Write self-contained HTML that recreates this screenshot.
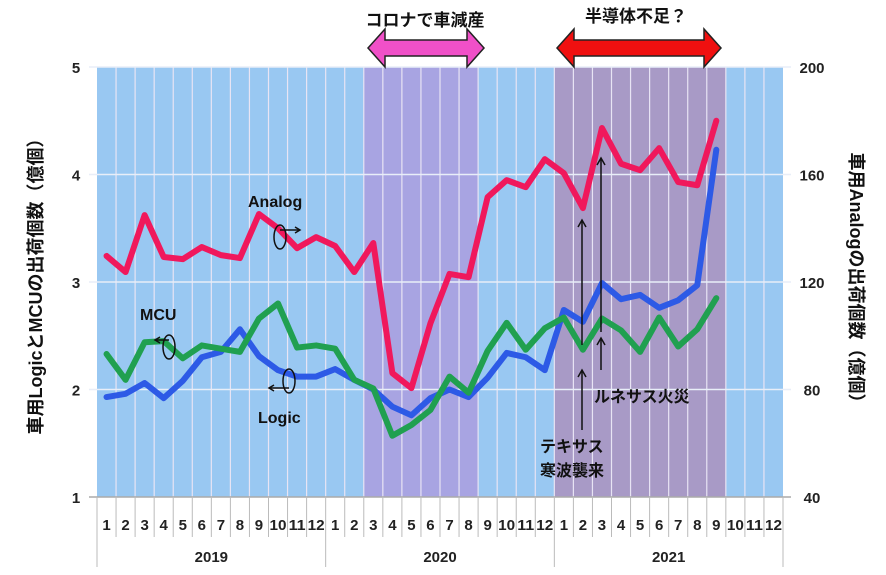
<!DOCTYPE html>
<html><head><meta charset="utf-8">
<style>
body{margin:0;background:#fff;width:886px;height:575px;overflow:hidden}
svg{display:block;font-family:"Liberation Sans","Noto Sans CJK JP",sans-serif}
</style></head>
<body>
<svg id="chart" width="886" height="575"></svg>
<script>
const months = ["1","2","3","4","5","6","7","8","9","10","11","12","1","2","3","4","5","6","7","8","9","10","11","12","1","2","3","4","5","6","7","8","9","10","11","12"];
const years = ["2019","2020","2021"];
const leftTicks = [1,2,3,4,5];
const rightTicks = [40,80,120,160,200];
const analog = [129.7,123.7,144.9,129.3,128.5,133,130,128.9,145.3,140,132.6,136.7,133.4,123.7,134.5,86.1,80.5,104.7,123,121.8,151.6,157.9,155.3,165.7,160.5,147.5,177.3,164,161.6,169.8,157.2,156,180];
const logic = [1.93,1.96,2.06,1.92,2.08,2.30,2.35,2.56,2.31,2.18,2.12,2.12,2.19,2.09,2.0,1.84,1.76,1.92,2.0,1.93,2.11,2.34,2.30,2.18,2.74,2.63,2.99,2.84,2.88,2.76,2.83,2.97,4.23];
const mcu = [2.33,2.09,2.44,2.45,2.29,2.41,2.38,2.35,2.66,2.80,2.39,2.41,2.38,2.09,2.01,1.57,1.67,1.81,2.12,1.97,2.36,2.62,2.37,2.57,2.67,2.37,2.66,2.55,2.35,2.67,2.40,2.56,2.85];

const NS="http://www.w3.org/2000/svg";
const svg=document.getElementById('chart');
const X0=97,X1=783,Y0=67,Y1=497;
const bw=(X1-X0)/36;
const xc=i=>X0+bw*(i+0.5);
const yL=v=>Y1-(v-1)/(5-1)*(Y1-Y0);
const yR=v=>Y1-(v-40)/(200-40)*(Y1-Y0);
function mk(tag,attrs,parent){const e=document.createElementNS(NS,tag);for(const k in attrs)e.setAttribute(k,attrs[k]);(parent||svg).appendChild(e);return e;}
function txt(s,attrs){const e=mk('text',attrs);e.textContent=s;return e;}

let bg=mk('rect',{x:X0,y:Y0,width:X1-X0,height:Y1-Y0,fill:'#99c8f2'});


let s1=mk('rect',{x:X0+bw*14,y:Y0,width:bw*6,height:Y1-Y0,fill:'#a8a4e2'});


let s2=mk('rect',{x:X0+bw*24,y:Y0,width:bw*9,height:Y1-Y0,fill:'#a89ac6'});


for(let i=1;i<36;i++){let l=mk('line',{x1:X0+bw*i,x2:X0+bw*i,y1:Y0,y2:Y1,stroke:'#e8e4f4','stroke-width':1.2});

}
leftTicks.forEach(v=>{
 let l=mk('line',{x1:X0-8,x2:X1+8,y1:yL(v),y2:yL(v),stroke:v==1?'#aaa':'#e8eef8','stroke-width':1.5});
 
 
 let t=txt(String(v),{x:76,y:yL(v)+6,'font-size':15,'font-weight':'bold','text-anchor':'middle',fill:'#222'});
 
 
});
rightTicks.forEach(v=>{
 let t=txt(String(v),{x:812,y:yR(v)+6,'font-size':15,'font-weight':'bold','text-anchor':'middle',fill:'#222'});
 
 
});
// x axis
months.forEach((m,i)=>{
 let t=txt(m,{x:xc(i),y:530,'font-size':15,'font-weight':'bold','text-anchor':'middle',fill:'#222','textLength':m.length>1?17:null});
 if(m.length>1){t.setAttribute('textLength',17);t.setAttribute('lengthAdjust','spacingAndGlyphs');}else t.removeAttribute('textLength');
 
 
});
for(let i=0;i<=36;i++){let big=i%12==0;let l=mk('line',{x1:X0+bw*i,x2:X0+bw*i,y1:Y1,y2:big?567:537,stroke:'#bbb','stroke-width':1});
 
 }
years.forEach((y,k)=>{let t=txt(y,{x:X0+bw*(12*k+6),y:562,'font-size':15,'font-weight':'bold','text-anchor':'middle',fill:'#222'});
 
 });
// series
function line(arr,yf,color,name){
 const p=mk('polyline',{points:arr.map((v,i)=>xc(i)+','+yf(v)).join(' '),fill:'none',stroke:color,'stroke-width':6,'stroke-linejoin':'round','stroke-linecap':'round'});
 
 
}
line(logic,yL,'#2d5ae6','logic-line');
line(mcu,yL,'#20a050','mcu-line');
line(analog,yR,'#f0185c','analog-line');
// axis titles
let lt=txt('車用LogicとMCUの出荷個数（億個）',{x:0,y:0,'font-size':18,'font-weight':'bold','text-anchor':'middle',fill:'#111',transform:'translate(42,282) rotate(-90)'});


let rt=txt('車用Analogの出荷個数（億個）',{x:0,y:0,'font-size':18,'font-weight':'bold','text-anchor':'middle',fill:'#111',transform:'translate(850,282) rotate(90)'});


// series labels
function lab(s,x,y,n){let t=txt(s,{x:x,y:y,'font-size':16,'font-weight':'bold',fill:'#111'});}
lab('Analog',248,207,'analog-label');
lab('MCU',140,320,'mcu-label');
lab('Logic',258,423,'logic-label');
function ell(cx,cy,ax,ay,n){let g=mk('g',{});
 mk('ellipse',{cx:cx,cy:cy,rx:6,ry:12,fill:'none',stroke:'#111','stroke-width':1.5},g);
 mk('line',{x1:cx,y1:cy+(ay<0?-7:7),x2:cx+ax,y2:cy+(ay<0?-7:7),stroke:'#111','stroke-width':1.5},g);
 const ex=cx+ax, ey=cy+(ay<0?-7:7), d=ax>0?-5:5;
 mk('path',{d:`M${ex+d},${ey-3}L${ex},${ey}L${ex+d},${ey+3}`,fill:'none',stroke:'#111','stroke-width':1.5},g);}
ell(280,237,20,-1,'analog-marker');
ell(169,347,-14,-1,'mcu-marker');
ell(289,381,-20,1,'logic-marker');
// event arrows
function arr(x,y1,y2,n){let g=mk('g',{});
 mk('line',{x1:x,y1:y1,x2:x,y2:y2,stroke:'#111','stroke-width':1.5},g);
 mk('path',{d:`M${x-4},${y2+7}L${x},${y2}L${x+4},${y2+7}`,fill:'none',stroke:'#111','stroke-width':1.5},g);}
arr(582,430,370,'texas-arrow-low');arr(582,345,220,'texas-arrow-high');
arr(601,370,338,'renesas-arrow-low');arr(601,332,158,'renesas-arrow-high');
lab('ルネサス火災',594,402,'renesas-fire-label');
lab('テキサス',540,452,'texas-label-1');
lab('寒波襲来',540,476,'texas-label-2');
// top arrows
function dbl(x1,x2,fill,n){let g=mk('g',{});
 const yc=48,h=8,H=19,hl=17;
 mk('path',{d:`M${x1},${yc}L${x1+hl},${yc-H}L${x1+hl},${yc-h}L${x2-hl},${yc-h}L${x2-hl},${yc-H}L${x2},${yc}L${x2-hl},${yc+H}L${x2-hl},${yc+h}L${x1+hl},${yc+h}L${x1+hl},${yc+H}Z`,fill:fill,stroke:'#222','stroke-width':1.5},g);}
dbl(368,484,'#f050c8','covid-arrow');
dbl(557,721,'#f01010','shortage-arrow');
let c=txt('コロナで車減産',{x:425,y:26,'font-size':17,'font-weight':'bold','text-anchor':'middle',fill:'#111'});


let s=txt('半導体不足？',{x:636,y:22,'font-size':17,'font-weight':'bold','text-anchor':'middle',fill:'#111'});


</script>
</body></html>
